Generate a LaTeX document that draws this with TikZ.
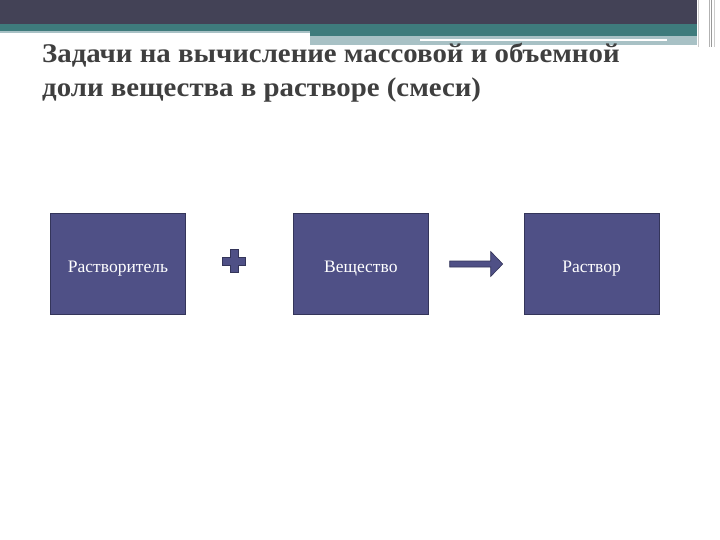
\documentclass[tikz,border=0pt]{standalone}
\usepackage{fontspec}
\setmainfont{Liberation Serif}
\usepackage{xcolor}
\usetikzlibrary{positioning,calc}
\definecolor{hdrdark}{HTML}{434256}
\definecolor{hdrteal}{HTML}{3E7B7C}
\definecolor{hdrlight}{HTML}{A8C1C5}
\definecolor{boxfill}{HTML}{4F5086}
\definecolor{boxline}{HTML}{34355A}
\definecolor{titlegray}{HTML}{3F3F3F}
\tikzset{
stage/.style={rectangle, fill=boxfill, draw=boxline, thick, minimum width=135pt, minimum height=101pt, text=white, text height=16pt, text depth=0pt, font=\fontsize{17.5}{20}\selectfont},
sign/.style={fill=boxfill, draw=boxline, semithick}
}

\begin{document}
\begin{tikzpicture}[x=1pt,y=-1pt]
  \useasboundingbox (0,0) rectangle (720,540);
  % header bands
  \fill[hdrdark] (0,0) rectangle (697,24);
  \fill[hdrteal] (0,24) rectangle (697,31);
  \fill[hdrlight] (0,31) rectangle (310,33);
  \fill[hdrteal] (310,31) rectangle (697,36);
  \fill[hdrlight] (310,36) rectangle (697,45);
  \fill[white] (420,39.5) rectangle (667,41.5);
  \foreach \x/\c in {698/gray!40, 709/gray!60, 711/gray!80, 714/gray!40}
    \draw[\c, line width=1pt] (\x,0) -- (\x,47);
  \node[anchor=base west, align=left, text=titlegray, font=\fontsize{27}{34}\selectfont\bfseries, inner sep=0pt, xscale=1.068, transform shape] (title) at (42,97) {Задачи на вычисление массовой и объемной\\доли вещества в растворе (смеси)};
  % scheme
  \node[stage] (solvent) at (118,264) {Растворитель};
  \node[stage, right=107pt of solvent] (subst) {Вещество};
  \node[stage, right=95pt of subst] (sol) {Раствор};
  \coordinate (plus) at ($(solvent.east)!0.45!(subst.west)+(0,-3)$);
  \draw[sign] ($(plus)+(-4,-11.5)$) -- ++(8,0) -- ++(0,7.5) -- ++(7.5,0) -- ++(0,8) -- ++(-7.5,0) -- ++(0,7.5) -- ++(-8,0) -- ++(0,-7.5) -- ++(-7.5,0) -- ++(0,-8) -- ++(7.5,0) -- cycle;
  \coordinate (arrtail) at ($(subst.east)+(21,0)$);
  \coordinate (arrtip) at ($(sol.west)+(-21,0)$);
  \draw[sign] ($(arrtail)+(0,-3)$) -- ($(arrtip)+(-12,-3)$) -- ($(arrtip)+(-12,-12.5)$) -- (arrtip) -- ($(arrtip)+(-12,12.5)$) -- ($(arrtip)+(-12,3)$) -- ($(arrtail)+(0,3)$) -- cycle;
\end{tikzpicture}
\end{document}
